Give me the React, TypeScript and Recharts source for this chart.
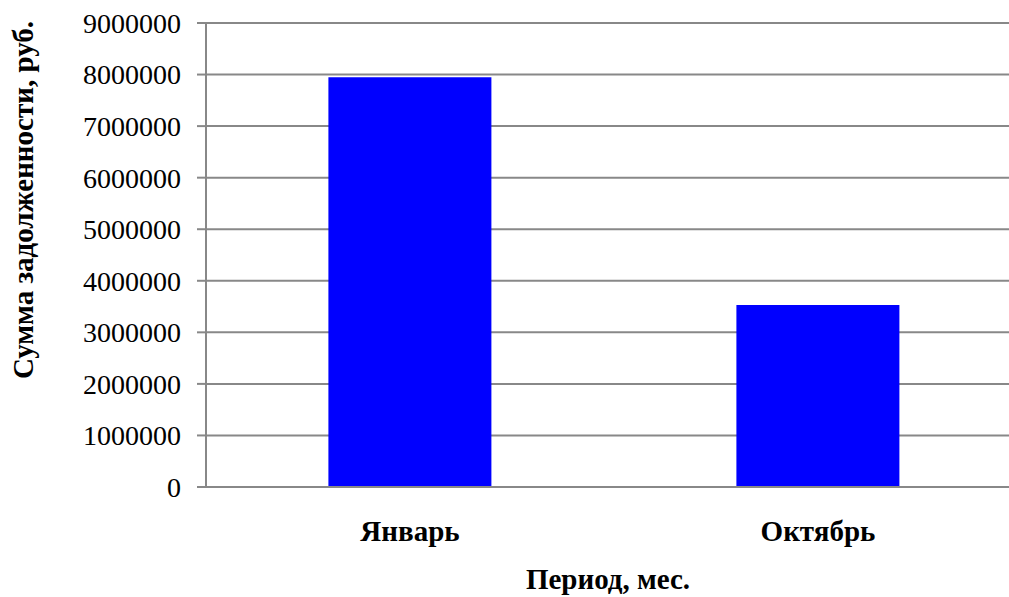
import { BarChart, Bar, XAxis, YAxis, CartesianGrid } from "recharts"

const months = ["Январь", "Октябрь"]
const debt = [7950000, 3530000]
const yTicks = [0, 1000000, 2000000, 3000000, 4000000, 5000000, 6000000, 7000000, 8000000, 9000000]

const data = months.map((m, i) => ({ month: m, debt: debt[i] }))

const FONT = "Liberation Serif, Times New Roman, serif"
const GRID = "#888888"

export default function App() {
  return (
    <div
      style={{
        position: "absolute",
        left: 0,
        top: 0,
        width: 1009,
        height: 597,
        overflow: "hidden",
        background: "#fff",
        fontFamily: FONT,
      }}
    >
      <BarChart
        width={1030}
        height={597}
        data={data}
        margin={{ top: 23, right: 8, bottom: 0, left: 0 }}
        barCategoryGap="30%"
      >
        <CartesianGrid vertical={false} stroke={GRID} strokeWidth={2} />
        <XAxis
          dataKey="month"
          height={110}
          tickLine={false}
          tickSize={0}
          tickMargin={33}
          axisLine={{ stroke: GRID, strokeWidth: 2 }}
          tick={{ fill: "#000", fontSize: 29, fontWeight: "bold", fontFamily: FONT }}
          label={{
            content: ({ viewBox }: any) => (
              <text
                x={viewBox.x + viewBox.width / 2 - 6}
                y={viewBox.y + viewBox.height - 8}
                textAnchor="middle"
                fontFamily={FONT}
                fontSize={29}
                fontWeight="bold"
                fill="#000"
              >
                Период, мес.
              </text>
            ),
          }}
        />
        <YAxis
          width={206}
          domain={[0, 9000000]}
          ticks={yTicks}
          interval={0}
          tickSize={9}
          tickMargin={16}
          tickLine={{ stroke: GRID, strokeWidth: 2 }}
          axisLine={{ stroke: GRID, strokeWidth: 2 }}
          tick={{ fill: "#000", fontSize: 28, fontFamily: FONT }}
          label={{
            content: ({ viewBox }: any) => (
              <text
                transform={`translate(${viewBox.x + 33}, ${viewBox.y + viewBox.height / 2 - 55}) rotate(-90)`}
                textAnchor="middle"
                fontFamily={FONT}
                fontSize={29}
                fontWeight="bold"
                fill="#000"
              >
                Сумма задолженности, руб.
              </text>
            ),
          }}
        />
        <Bar dataKey="debt" fill="#0000FF" isAnimationActive={false} />
      </BarChart>
    </div>
  )
}
